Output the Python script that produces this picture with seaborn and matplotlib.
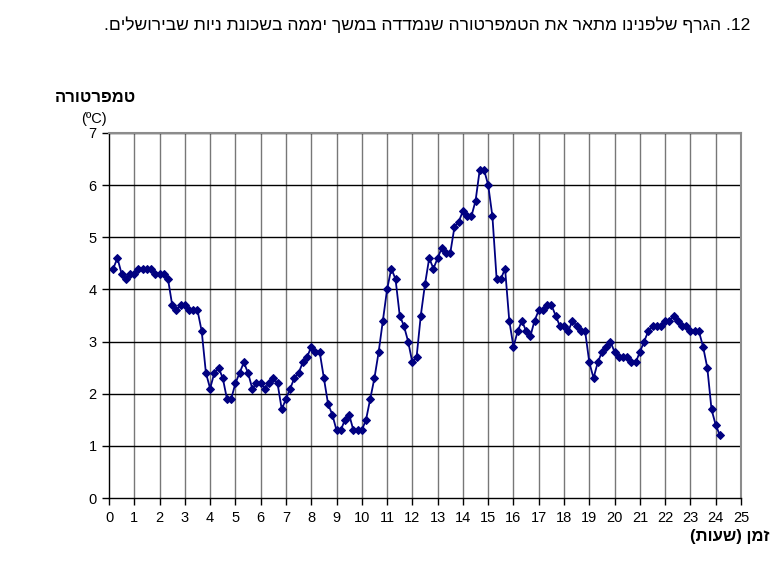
import numpy as np
import pandas as pd
import matplotlib
matplotlib.use("Agg")
import matplotlib.pyplot as plt
import seaborn as sns

# ---- data ----
# measurement index (every 10 minutes, starting 00:10)
step_index = list(range(1, 146))
temps = [
    4.4, 4.6, 4.3, 4.2, 4.3, 4.3, 4.4, 4.4, 4.4, 4.4,
    4.3, 4.3, 4.3, 4.2, 3.7, 3.6, 3.7, 3.7, 3.6, 3.6,
    3.6, 3.2, 2.4, 2.1, 2.4, 2.5, 2.3, 1.9, 1.9, 2.2,
    2.4, 2.6, 2.4, 2.1, 2.2, 2.2, 2.1, 2.2, 2.3, 2.2,
    1.7, 1.9, 2.1, 2.3, 2.4, 2.6, 2.7, 2.9, 2.8, 2.8,
    2.3, 1.8, 1.6, 1.3, 1.3, 1.5, 1.6, 1.3, 1.3, 1.3,
    1.5, 1.9, 2.3, 2.8, 3.4, 4.0, 4.4, 4.2, 3.5, 3.3,
    3.0, 2.6, 2.7, 3.5, 4.1, 4.6, 4.4, 4.6, 4.8, 4.7,
    4.7, 5.2, 5.3, 5.5, 5.4, 5.4, 5.7, 6.3, 6.3, 6.0,
    5.4, 4.2, 4.2, 4.4, 3.4, 2.9, 3.2, 3.4, 3.2, 3.1,
    3.4, 3.6, 3.6, 3.7, 3.7, 3.5, 3.3, 3.3, 3.2, 3.4,
    3.3, 3.2, 3.2, 2.6, 2.3, 2.6, 2.8, 2.9, 3.0, 2.8,
    2.7, 2.7, 2.7, 2.6, 2.6, 2.8, 3.0, 3.2, 3.3, 3.3,
    3.3, 3.4, 3.4, 3.5, 3.4, 3.3, 3.3, 3.2, 3.2, 3.2,
    2.9, 2.5, 1.7, 1.4, 1.2,
]
x_ticks = list(range(0, 26))
y_ticks = list(range(0, 8))

title_words = ["הגרף", "שלפנינו", "מתאר", "את", "הטמפרטורה", "שנמדדה",
               "במשך", "יממה", "בשכונת", "ניות", "שבירושלים"]
question_no = "12"
y_title = "טמפרטורה"
unit_label = "(ºC)"
x_title_word = "זמן"
x_title_paren = "שעות"


def vis(s):
    """Hebrew logical -> visual order (single RTL run)."""
    return s[::-1]


title_visual = "." + vis(" ".join(title_words)) + " ." + question_no
x_title_visual = "(" + vis(x_title_paren) + ") " + vis(x_title_word)

df = pd.DataFrame({"hours": np.array(step_index) / 6.0, "temp": temps})

# ---- style ----
sns.set_theme(style="white")
plt.rcParams["font.family"] = ["Liberation Sans", "DejaVu Sans"]

fig = plt.figure(figsize=(7.77, 5.70), dpi=100)
ax = fig.add_axes([109 / 777, 1 - 498 / 570, (741 - 109) / 777, (498 - 133) / 570])

sns.lineplot(data=df, x="hours", y="temp", ax=ax, color="#000080",
             linewidth=1.3, marker="D", markersize=4.3,
             markeredgecolor="#000080", markerfacecolor="#000080")

ax.set_xlim(0, 25)
ax.set_ylim(0, 7)
ax.set_xticks(x_ticks)
ax.set_yticks(y_ticks)
ax.set_xticklabels([str(v) for v in x_ticks], fontsize=10.5)
ax.set_yticklabels([str(v) for v in y_ticks], fontsize=10.5)
ax.set_xlabel("")
ax.set_ylabel("")

for v in x_ticks[1:-1]:
    ax.axvline(v, color="#777777", linewidth=1.0, zorder=0)
for v in y_ticks[1:]:
    ax.axhline(v, color="black", linewidth=1.0, zorder=0)

for side in ["top", "right"]:
    ax.spines[side].set_color("#8c8c8c")
    ax.spines[side].set_linewidth(1.5)
for side in ["left", "bottom"]:
    ax.spines[side].set_color("black")
    ax.spines[side].set_linewidth(1.0)

ax.tick_params(axis="both", which="major", direction="out", length=5,
               width=1, color="black", labelcolor="black", pad=4,
               bottom=True, left=True)

fig.text(750 / 777, 1 - 25 / 570, title_visual, ha="right", va="center",
         fontsize=12.6, color="black")
fig.text(55 / 777, 1 - 97 / 570, vis(y_title), ha="left", va="center",
         fontsize=12, fontweight="bold", color="black")
fig.text(107 / 777, 1 - 119 / 570, unit_label, ha="right", va="center",
         fontsize=10.5, color="black")
fig.text(770 / 777, 1 - 537 / 570, x_title_visual, ha="right", va="center",
         fontsize=12, fontweight="bold", color="black")

fig.savefig("out.png", dpi=100, facecolor="white")
